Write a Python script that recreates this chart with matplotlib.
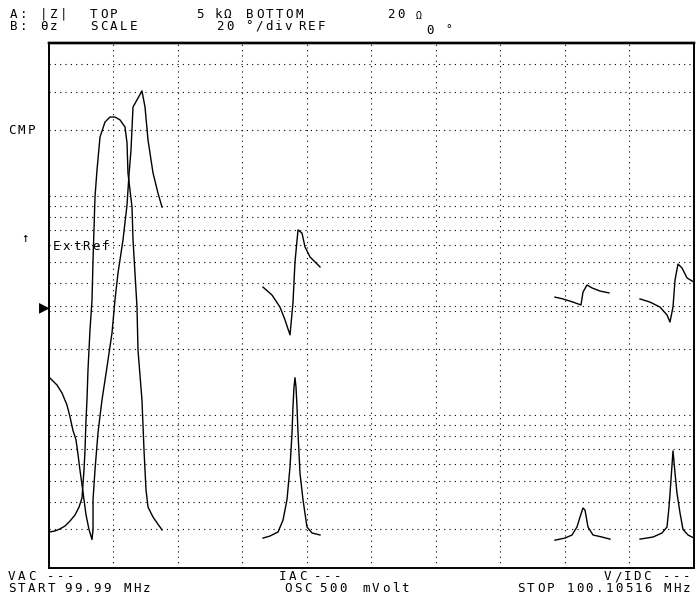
import matplotlib
matplotlib.use("Agg")
import matplotlib.pyplot as plt

W, H = 696, 601
F_START, F_STOP = 99.99, 100.10516   # MHz
Z_BOTTOM, Z_TOP = 20, 5000           # ohm, log
PH_REF, PH_DIV = 0, 20               # deg, deg/div

# segment 1 (main resonance)
s1_fz = [99.99000, 99.99143, 99.99232, 99.99321, 99.99375, 99.99428, 99.99482, 99.99518,
         99.99553, 99.99589, 99.99625, 99.99661, 99.99714, 99.99768, 99.99786, 99.99786,
         99.99821, 99.99875, 99.99946, 100.00036, 100.00125, 100.00178, 100.00232, 100.00321,
         100.00393, 100.00428, 100.00464, 100.00500, 100.00660, 100.00714, 100.00768,
         100.00857, 100.00946, 100.01018]
s1_z = [149, 137, 126, 111, 98, 85, 77, 66, 56, 48, 41, 35, 30, 27, 30, 41,
        56, 83, 117, 166, 237, 335, 445, 630, 910, 1250, 1620, 2550, 3020, 2550,
        1800, 1275, 1030, 890]
s1_fp = [99.99000, 99.99107, 99.99196, 99.99286, 99.99375, 99.99464, 99.99536, 99.99589,
         99.99625, 99.99643, 99.99661, 99.99678, 99.99696, 99.99732, 99.99768, 99.99786,
         99.99803, 99.99821, 99.99857, 99.99911, 100.00000, 100.00089, 100.00178, 100.00268,
         100.00357, 100.00393, 100.00410, 100.00482, 100.00500, 100.00535, 100.00571,
         100.00589, 100.00660, 100.00696, 100.00732, 100.00768, 100.00857, 100.00982, 100.01018]
s1_p = [-86.3, -85.9, -85.1, -84.0, -82.1, -79.8, -76.8, -73.3, -62.7, -55.0, -43.6, -36.0,
        -24.6, -9.3, 2.1, 17.3, 28.8, 41.3, 51.6, 64.2, 69.9, 71.8, 71.8, 70.7, 68.0, 61.9,
        50.5, 37.5, 25.0, 12.4, -0.6, -17.0, -36.0, -55.0, -70.3, -76.8, -80.6, -84.4, -85.5]

# segment 2
s2_fz = [100.02821, 100.02946, 100.03089, 100.03178, 100.03249, 100.03303, 100.03339,
         100.03356, 100.03374, 100.03392, 100.03410, 100.03428, 100.03446, 100.03481,
         100.03535, 100.03606, 100.03696, 100.03838]
s2_z = [27.4, 28.0, 29.2, 33.1, 41, 57.9, 82.8, 109, 134, 148, 134, 109, 82.8, 54.3,
        41, 30.8, 28.9, 28.3]
s2_fp = [100.02821, 100.02981, 100.03124, 100.03214, 100.03303, 100.03356, 100.03392,
         100.03446, 100.03517, 100.03571, 100.03660, 100.03838]
s2_p = [7.0, 4.0, -0.6, -5.5, -11.2, 1.0, 16.6, 28.8, 27.6, 22.3, 18.5, 14.7]

# segment 3
s3_fz = [100.08034, 100.08213, 100.08338, 100.08427, 100.08481, 100.08534, 100.08570,
         100.08623, 100.08713, 100.08873, 100.09016]
s3_z = [26.8, 27.4, 28.3, 30.8, 34.2, 37.6, 36.8, 30.8, 28.3, 27.7, 27.1]
s3_fp = [100.08034, 100.08177, 100.08356, 100.08498, 100.08534, 100.08605, 100.08695,
         100.08838, 100.08998]
s3_p = [3.2, 2.5, 1.3, 0.2, 5.1, 7.8, 6.7, 5.5, 4.8]

# segment 4
s4_fz = [100.09552, 100.09784, 100.09945, 100.10034, 100.10070, 100.10105, 100.10141,
         100.10177, 100.10212, 100.10266, 100.10320, 100.10409, 100.10516]
s4_z = [27.1, 27.7, 28.9, 30.8, 38.0, 50.5, 68.5, 54.3, 44.0, 35.7, 30.0, 28.3, 27.4]
s4_fp = [100.09552, 100.09730, 100.09909, 100.10034, 100.10087, 100.10141, 100.10177,
         100.10230, 100.10302, 100.10391, 100.10516]
s4_p = [2.5, 1.3, -0.6, -3.6, -6.3, -0.6, 9.7, 15.8, 14.3, 10.5, 8.9]

z_grid = [30, 40, 50, 60, 70, 80, 90, 100, 200, 300, 400, 500, 600, 700, 800, 900,
          1000, 2000, 3000, 4000]

fig = plt.figure(figsize=(W / 100, H / 100), dpi=100)
ax = fig.add_axes([49 / W, (H - 568) / H, 645 / W, 525 / H])
ax.set_yscale("log")
ax.set_xlim(F_START, F_STOP)
ax.set_ylim(Z_BOTTOM, Z_TOP)
ax.set_xticks([])
ax.set_yticks([])
ax.minorticks_off()
ax2 = ax.twinx()
ax2.set_ylim(PH_REF - 5 * PH_DIV, PH_REF + 5 * PH_DIV)
ax2.set_yticks([])

dot = dict(color="black", lw=0.8, ls=(0, (1, 3.8)), zorder=1)
span = F_STOP - F_START
for i in range(1, 10):
    ax.axvline(F_START + i * span / 10, **dot)
for z in z_grid:
    ax.axhline(z, **dot)
ax2.axhline(PH_REF, **dot)

tr = dict(color="black", lw=1.0, zorder=3)
for fz, z in [(s1_fz, s1_z), (s2_fz, s2_z), (s3_fz, s3_z), (s4_fz, s4_z)]:
    ax.plot(fz, z, **tr)
for fp, p in [(s1_fp, s1_p), (s2_fp, s2_p), (s3_fp, s3_p), (s4_fp, s4_p)]:
    ax2.plot(fp, p, **tr)

for a in (ax, ax2):
    for name, s in a.spines.items():
        s.set_linewidth(1.7 if name == "top" else 1.2)
        s.set_color("black")

CELL = 9.8


def put(x, y, s, size=9):
    # instrument text sits on a fixed character grid
    for i, ch in enumerate(s):
        if ch != " ":
            fig.text((x + (i + 0.5) * CELL) / W, 1 - y / H, ch, ha="center", va="center",
                     family=["DejaVu Sans Mono", "DejaVu Sans"], size=size)


put(9, 14, "A:")
put(39, 14, "|Z|")
put(89, 14, "TOP")
put(195, 14, "5")
put(213, 14, "kΩ")
put(245, 14, "BOTTOM")
put(386, 14, "20")
put(414, 16, "Ω", size=7)
put(9, 26, "B:")
put(39, 26, "θz")
put(89, 26, "SCALE")
put(215, 26, "20")
put(244, 26, "°/div")
put(297, 26, "REF")
put(425, 30, "0")
put(444, 29, "°", size=8)

put(7, 131, "CMP")
put(20, 238, "↑")
put(52, 246, "ExtRef")
fig.text(44 / W, 1 - 307 / H, "▶", ha="center", va="center", family="DejaVu Sans", size=10)

put(7, 577, "VAC")
put(46, 577, "---")
put(278, 577, "IAC")
put(313, 577, "---")
put(603, 577, "V/IDC")
put(662, 577, "---")
put(7, 589, "START")
put(63, 589, "99.99")
put(122, 589, "MHz")
put(283, 589, "OSC")
put(318, 589, "500")
put(361, 589, "mVolt")
put(516, 589, "STOP")
put(565, 589, "100.10516")
put(662, 589, "MHz")

fig.savefig("out.png", dpi=100)
